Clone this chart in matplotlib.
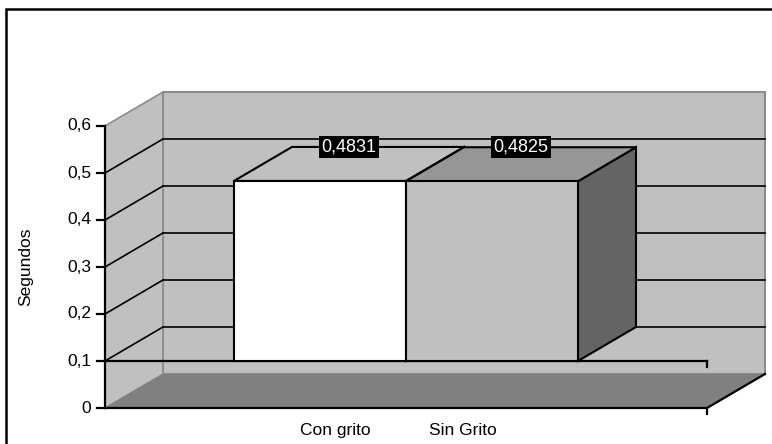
import numpy as np
import matplotlib
matplotlib.use('Agg')
import matplotlib.pyplot as plt
from matplotlib.patches import Polygon, Rectangle

plt.rcParams['font.family'] = ['Liberation Sans', 'DejaVu Sans']

# datos
categories = ['Con grito', 'Sin Grito']
values = [0.4831, 0.4825]
value_labels = ['0,4831', '0,4825']
yticks = [0.0, 0.1, 0.2, 0.3, 0.4, 0.5, 0.6]
ytick_labels = ['0', '0,1', '0,2', '0,3', '0,4', '0,5', '0,6']
ylabel = 'Segundos'

# geometria del grafico 3D (unidades de datos)
PX = 1 / 172.0          # unidades de categoria por pixel
PY = 1 / 470.0          # unidades de valor por pixel
X_LEFT, X_RIGHT = -1.25, 2.25
Y_MAX = 0.6
BASE = 0.1              # el eje de categorias cruza en 0,1
DX, DY = 58 * PX, 34 * PY
BAR_W = 1.0
FS = 12.5

WALL = '#c0c0c0'
EDGE = '#8c8c8c'
FLOOR = '#808080'
front_colors = ['#ffffff', '#c0c0c0']
top_colors = ['#c0c0c0', '#969696']
side_colors = ['#808080', '#646464']

fig = plt.figure(figsize=(7.72, 4.44), dpi=100)
ax = fig.add_axes([0, 0, 1, 1])
ax.set_xlim(X_LEFT - 105 * PX, X_LEFT + 667 * PX)
ax.set_ylim(-36 * PY, 408 * PY)
ax.axis('off')

# pared del fondo
ax.add_patch(Rectangle((X_LEFT + DX, DY), X_RIGHT - X_LEFT, Y_MAX,
                       fc=WALL, ec=EDGE, lw=1.5, zorder=1))
# pared izquierda
ax.add_patch(Polygon([(X_LEFT, 0), (X_LEFT + DX, DY),
                      (X_LEFT + DX, Y_MAX + DY), (X_LEFT, Y_MAX)],
                     closed=True, fc=WALL, ec=EDGE, lw=1.2, zorder=1))
# piso
ax.add_patch(Polygon([(X_LEFT, 0), (X_RIGHT, 0),
                      (X_RIGHT + DX, DY), (X_LEFT + DX, DY)],
                     closed=True, fc=FLOOR, ec='none', zorder=2))

# lineas de division (fondo + diagonales)
for v in yticks[1:-1]:
    ax.plot([X_LEFT + DX, X_RIGHT + DX], [v + DY, v + DY],
            color='black', lw=1.2, zorder=3)
    ax.plot([X_LEFT, X_LEFT + DX], [v, v + DY],
            color='black', lw=1.2, zorder=3)

# eje de categorias (en 0,1) y borde frontal del piso
ax.plot([X_LEFT, X_RIGHT], [BASE, BASE], color='black', lw=1.6, zorder=4)
ax.plot([X_RIGHT, X_RIGHT], [BASE, BASE - 6 * PY], color='black', lw=1.6, zorder=4)
ax.plot([X_LEFT, X_RIGHT, X_RIGHT + DX], [0, 0, DY], color='black', lw=1.6, zorder=4)
ax.plot([X_RIGHT, X_RIGHT], [0, -6 * PY], color='black', lw=1.6, zorder=4)

# barras 3D
for i, v in enumerate(values):
    left, right = i - BAR_W / 2, i + BAR_W / 2
    side = Polygon([(right, BASE), (right + DX, BASE + DY),
                    (right + DX, v + DY), (right, v)],
                   closed=True, fc=side_colors[i], ec='black', lw=1.5, zorder=5 + i)
    top = Polygon([(left, v), (right, v), (right + DX, v + DY), (left + DX, v + DY)],
                  closed=True, fc=top_colors[i], ec='black', lw=1.5, zorder=5 + i)
    front = Rectangle((left, BASE), BAR_W, v - BASE,
                      fc=front_colors[i], ec='black', lw=1.5, zorder=5 + i)
    ax.add_patch(side)
    ax.add_patch(top)
    ax.add_patch(front)
    ax.text(i + DX / 2, v + DY, value_labels[i], color='white', fontsize=FS + 0.5,
            ha='center', va='center', zorder=10,
            bbox=dict(boxstyle='square,pad=0.15', fc='black', ec='none'))

# eje de valores
ax.plot([X_LEFT, X_LEFT], [0, Y_MAX], color='black', lw=1.6, zorder=6)
for v, lab in zip(yticks, ytick_labels):
    ax.plot([X_LEFT - 8 * PX, X_LEFT], [v, v], color='black', lw=1.6, zorder=6)
    ax.text(X_LEFT - 14 * PX, v, lab, fontsize=FS, ha='right', va='center')

ax.text(X_LEFT - 79 * PX, Y_MAX / 2, ylabel, fontsize=FS, rotation=90,
        ha='center', va='center')

# etiquetas de categoria
label_x = [0.09, 0.83]
for x, lab in zip(label_x, categories):
    ax.text(x, -22 * PY, lab, fontsize=FS, ha='center', va='center')

# marco exterior (recortado a derecha y abajo)
ax.add_patch(Rectangle((5.5 / 772, -0.1), 1.2, 1.1 - 9.5 / 444,
                       transform=ax.transAxes, fill=False, ec='black', lw=1.8,
                       zorder=20))

fig.savefig('out.png', dpi=100)
